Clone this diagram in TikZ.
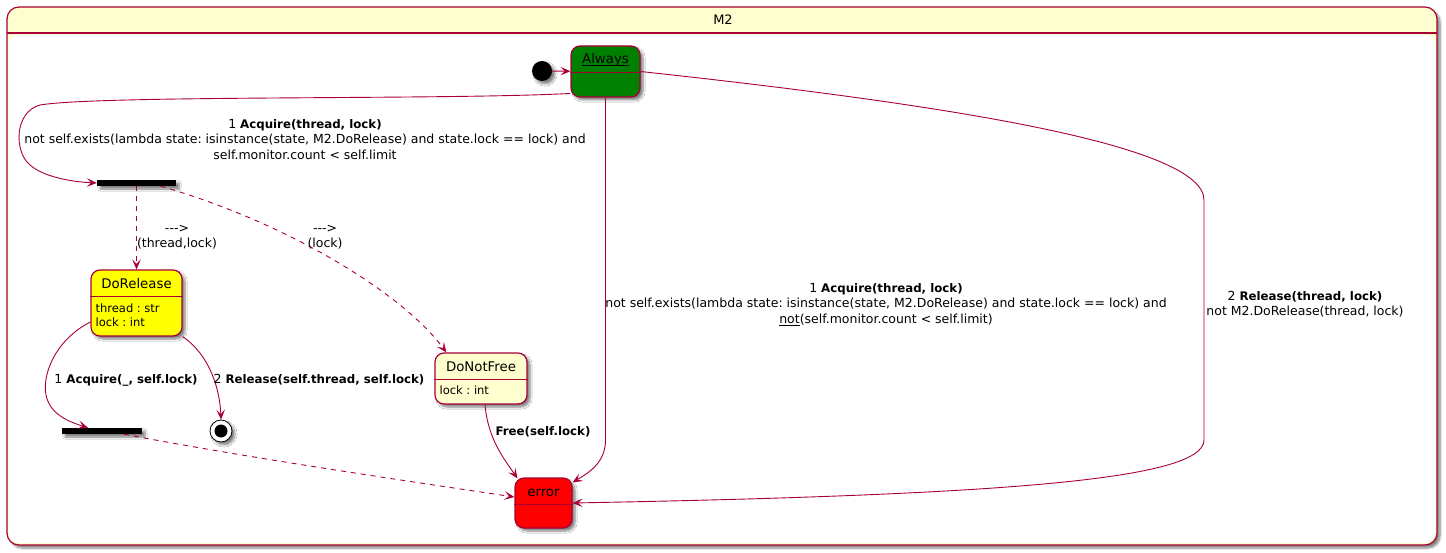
\documentclass[tikz,border=0pt]{standalone}
\usepackage{fontspec}
\setmainfont{DejaVu Sans}
\usetikzlibrary{arrows.meta,shadows.blur,calc}
\definecolor{pu}{HTML}{A80036}
\definecolor{puyel}{HTML}{FEFECE}
\definecolor{pugreen}{HTML}{008000}
\definecolor{puyellow}{HTML}{FFFF00}
\definecolor{pured}{HTML}{FF0000}
\newcommand{\bt}[1]{{\fontsize{11.8}{15.5}\selectfont\bfseries #1}}
\frenchspacing
\begin{document}
\begin{tikzpicture}[x=1pt,y=-1pt,
  shad/.style={blur shadow={shadow xshift=3pt,shadow yshift=-3pt,shadow blur steps=6,shadow opacity=50}},
  state/.style={draw=pu,line width=1.2pt,rounded corners=9pt,inner sep=0pt,shad},
  bar/.style={fill=black,draw=none,minimum width=79pt,minimum height=6pt,inner sep=0pt,shad},
  arr/.style={draw=pu,line width=0.9pt,-{Stealth[length=10pt,width=8.5pt,inset=4.5pt]}},
  dsh/.style={arr,dash pattern=on 5pt off 5pt},
  lbl/.style={font=\fontsize{12.5}{15.5}\selectfont,align=center,inner sep=0pt},
  sname/.style={font=\fontsize{13.3}{16}\selectfont,inner sep=0pt,anchor=base},
  attr/.style={font=\fontsize{11.5}{14}\selectfont,inner sep=0pt,anchor=base west},
  divider/.style={draw=pu,line width=1.2pt}]
\useasboundingbox (0,0) rectangle (1446,553);
% outer composite state
\node[fill=puyel,rounded corners=12pt,minimum width=1430pt,minimum height=538pt,inner sep=0pt,shad] (outer) at (722,276) {};
\fill[white,rounded corners=10pt] (9,35) rectangle (1435,543);
\draw[divider] (outer.north west |- 0,33) -- (outer.north east |- 0,33);
\draw[pu,line width=1.2pt,rounded corners=12pt] (7,7) rectangle (1437,545);
\node[font=\fontsize{13}{16}\selectfont,inner sep=0pt] (title) at (723,20) {M2};

% states
\node[circle,fill=black,minimum size=20pt,inner sep=0pt,shad] (init) at (542,71) {};
\node[state,fill=pugreen,minimum width=69pt,minimum height=51pt] (always) at (605.5,71.5) {};
\draw[divider] ([yshift=-27pt]always.north west) -- ([yshift=-27pt]always.north east);
\node[sname] (alwaysname) at ([yshift=-18.5pt]always.north) {Always};
\draw[black,line width=0.8pt] ([yshift=-2pt]alwaysname.base west) -- ([yshift=-2pt]alwaysname.base east);

\node[bar] (bar1) at (136.5,183) {};
\node[bar,minimum width=80pt] (bar2) at (102,431) {};

\node[state,fill=puyellow,minimum width=91pt,minimum height=66pt] (dorel) at (136.5,303) {};
\draw[divider] ([yshift=-27pt]dorel.north west) -- ([yshift=-27pt]dorel.north east);
\node[sname] (dorelname) at ([yshift=-19pt]dorel.north) {DoRelease};
\node[attr] (dorelattr1) at ([xshift=5pt,yshift=-43pt]dorel.north west) {thread : str};
\node[attr] (dorelattr2) at ([xshift=5pt,yshift=-57pt]dorel.north west) {lock : int};

\node[state,fill=puyel,minimum width=92pt,minimum height=51pt] (donot) at (481,378.5) {};
\draw[divider] ([yshift=-27pt]donot.north west) -- ([yshift=-27pt]donot.north east);
\node[sname] (donotname) at ([yshift=-19pt]donot.north) {DoNotFree};
\node[attr] (donotattr) at ([xshift=5pt,yshift=-42pt]donot.north west) {lock : int};

\node[state,fill=pured,minimum width=57pt,minimum height=50pt] (err) at (543.5,503) {};
\draw[divider] ([yshift=-27pt]err.north west) -- ([yshift=-27pt]err.north east);
\node[sname] (errname) at ([yshift=-19pt]err.north) {error};

\node[circle,draw=black,fill=white,line width=0.8pt,minimum size=22pt,inner sep=0pt,shad] (final) at (221,431) {};
\node[circle,fill=black,minimum size=13pt,inner sep=0pt] (finalin) at (final) {};

% connectors
\draw[arr] (init) -- (always);
\draw[arr] (always.212) .. controls (450,100) and (100,95) .. (40,105)
   .. controls (14,112) and (14,152) .. (30,165)
   .. controls (45,178) and (75,182) .. (bar1.west);
\draw[dsh] (bar1.south) -- (dorel.north);
\draw[dsh] ([xshift=24pt]bar1.south) .. controls (280,220) and (400,290) .. ([xshift=12pt]donot.north west);
\draw[arr] ([yshift=-19pt]dorel.west) .. controls (55,340) and (42,375) .. (46,395)
   .. controls (50,415) and (70,422) .. ([xshift=-14pt]bar2.north);
\draw[arr] (dorel.south east) .. controls (210,355) and (220,390) .. (final.north);
\draw[dsh] ([xshift=22pt]bar2.south) .. controls (250,458) and (400,480) .. ([yshift=6pt]err.west);
\draw[arr] ([xshift=4pt]donot.south) .. controls (488,440) and (505,460) .. ([xshift=3pt,yshift=-1pt]err.north west);
\draw[arr] (always.south) -- (605.5,440) .. controls (605.5,462) and (590,472) .. ([yshift=-5pt]err.north east);
\draw[arr] (always.east) .. controls (950,105) and (1204,145) .. (1204,200) -- (1204,440)
   .. controls (1204,480) and (1000,495) .. (err.east);

% labels
\node[lbl] (l1) at (305,139.5) {1 \bt{Acquire(thread, lock)}\\not self.exists(lambda state: isinstance(state, M2.DoRelease) and state.lock == lock) and\\self.monitor.count < self.limit};
\node[lbl] (l2) at (177,237) {-{}-{}->\\(thread,lock)};
\node[lbl] (l3) at (325,237) {-{}-{}->\\(lock)};
\node[lbl] (l4) at (126,380) {1 \bt{Acquire(\_, self.lock)}};
\node[lbl] (l5) at (319,380) {2 \bt{Release(self.thread, self.lock)}};
\node[lbl] (l6) at (543,432) {\bt{Free(self.lock)}};
\node[lbl] (l7) at (886,304.5) {1 \bt{Acquire(thread, lock)}\\not self.exists(lambda state: isinstance(state, M2.DoRelease) and state.lock == lock) and\\\underline{not}(self.monitor.count < self.limit)};
\node[lbl] (l8) at (1305,304) {2 \bt{Release(thread, lock)}\\not M2.DoRelease(thread, lock)};
\end{tikzpicture}
\end{document}
